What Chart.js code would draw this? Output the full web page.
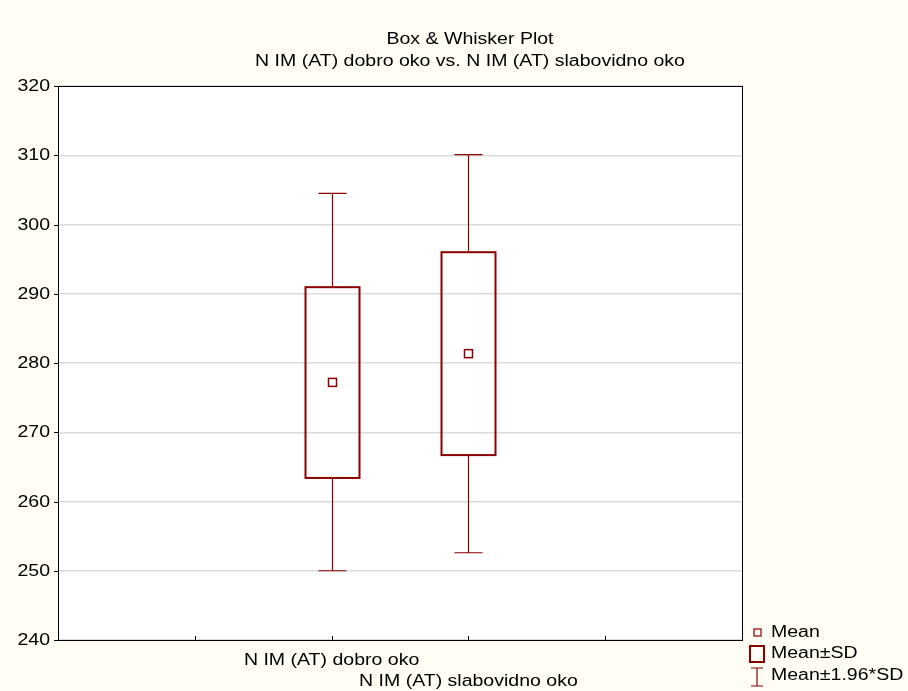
<!DOCTYPE html>
<html>
<head>
<meta charset="UTF-8" />
<script src="https://cdn.jsdelivr.net/npm/chart.js"></script>
<style>
  html, body { margin: 0; padding: 0; background: #fffdf4; }
  #wrap { width: 908px; height: 691px; }
</style>
</head>
<body>
<div id="wrap"><canvas id="c"></canvas></div>
<script>
// data
const categories = ['N IM (AT) dobro oko', 'N IM (AT) slabovidno oko'];
const positions = [2, 3];
const means = [277.2, 281.35];
const sdLow = [263.4, 266.7];
const sdHigh = [290.95, 296.0];
const ciLow = [250.0, 252.6];
const ciHigh = [304.5, 310.1];
const yTicks = [240, 250, 260, 270, 280, 290, 300, 310, 320];
const xTicks = [1, 2, 3, 4];
const titleLines = ['Box & Whisker Plot', 'N IM (AT) dobro oko vs. N IM (AT) slabovidno oko'];

const red = '#8b0000';
const font = '"Liberation Sans", Arial, sans-serif';
const SX = 1.22;

// text stretched horizontally like the original
function text(ctx, s, x, y, align) {
  ctx.save();
  ctx.translate(x, y);
  ctx.scale(SX, 1);
  ctx.textAlign = align;
  ctx.fillText(s, 0, 0);
  ctx.restore();
}

const boxPlugin = {
  id: 'boxes',
  beforeDraw(chart) {
    const { ctx, chartArea: a } = chart;
    ctx.save();
    ctx.fillStyle = '#ffffff';
    ctx.fillRect(a.left, a.top, a.right - a.left, a.bottom - a.top);
    ctx.restore();
  },
  afterDraw(chart) {
    const { ctx, chartArea: a, scales: { x, y } } = chart;
    ctx.save();
    ctx.strokeStyle = '#000';
    ctx.lineWidth = 1;
    ctx.strokeRect(a.left + 0.5, a.top + 0.5, a.right - a.left, a.bottom - a.top);
    ctx.font = '16px ' + font;
    ctx.fillStyle = '#000';
    ctx.textBaseline = 'middle';
    // title
    titleLines.forEach((t, i) => text(ctx, t, 470, 40 + i * 22, 'center'));
    // y ticks and labels
    yTicks.forEach(v => {
      const py = Math.round(y.getPixelForValue(v)) + 0.5;
      ctx.beginPath(); ctx.moveTo(a.left - 4, py); ctx.lineTo(a.left, py); ctx.stroke();
      text(ctx, String(v), a.left - 8, py, 'right');
    });
    xTicks.forEach(v => {
      const px = Math.round(x.getPixelForValue(v)) + 0.5;
      ctx.beginPath(); ctx.moveTo(px, a.bottom); ctx.lineTo(px, a.bottom - 4); ctx.stroke();
    });
    // category labels (staggered)
    categories.forEach((c, i) => {
      text(ctx, c, x.getPixelForValue(positions[i]), a.bottom + 21 + i * 21, 'center');
    });
    // boxes
    ctx.strokeStyle = red;
    positions.forEach((p, i) => {
      const cx = Math.round(x.getPixelForValue(p)) + 0.5;
      const half = 27, cap = 14;
      const t = y.getPixelForValue(sdHigh[i]), b = y.getPixelForValue(sdLow[i]);
      const wt = y.getPixelForValue(ciHigh[i]), wb = y.getPixelForValue(ciLow[i]);
      ctx.lineWidth = 1.2;
      ctx.beginPath();
      ctx.moveTo(cx, t); ctx.lineTo(cx, wt);
      ctx.moveTo(cx - cap, wt); ctx.lineTo(cx + cap, wt);
      ctx.moveTo(cx, b); ctx.lineTo(cx, wb);
      ctx.moveTo(cx - cap, wb); ctx.lineTo(cx + cap, wb);
      ctx.stroke();
      ctx.lineWidth = 2;
      ctx.strokeRect(cx - half, t, half * 2, b - t);
      const m = y.getPixelForValue(means[i]);
      ctx.lineWidth = 1.5;
      ctx.strokeRect(cx - 4, m - 4, 8, 8);
    });
    // legend
    ctx.fillStyle = '#000';
    const lx = 757;
    ctx.lineWidth = 1.2;
    ctx.strokeRect(lx - 3, 629, 7, 7);
    text(ctx, 'Mean', 771, 633, 'left');
    ctx.lineWidth = 2;
    ctx.strokeRect(lx - 7, 646, 14, 16);
    text(ctx, 'Mean±SD', 771, 654, 'left');
    ctx.lineWidth = 1.2;
    ctx.beginPath();
    ctx.moveTo(lx - 6, 668); ctx.lineTo(lx + 6, 668);
    ctx.moveTo(lx, 668); ctx.lineTo(lx, 686);
    ctx.moveTo(lx - 6, 686); ctx.lineTo(lx + 6, 686);
    ctx.stroke();
    text(ctx, 'Mean±1.96*SD', 771, 676, 'left');
    ctx.restore();
  }
};

new Chart(document.getElementById('c'), {
  type: 'scatter',
  data: { datasets: [{ data: [] }] },
  options: {
    responsive: true,
    maintainAspectRatio: false,
    animation: false,
    layout: { padding: { left: 58, right: 166, top: 86, bottom: 51 } },
    plugins: { legend: { display: false }, tooltip: { enabled: false } },
    scales: {
      x: { type: 'linear', min: 0, max: 5, display: false },
      y: {
        type: 'linear', min: 240, max: 320,
        ticks: { display: false, stepSize: 10 },
        border: { display: false },
        grid: { color: '#dcdcdc', drawTicks: false, lineWidth: 1.5 }
      }
    }
  },
  plugins: [boxPlugin]
});
</script>
</body>
</html>
